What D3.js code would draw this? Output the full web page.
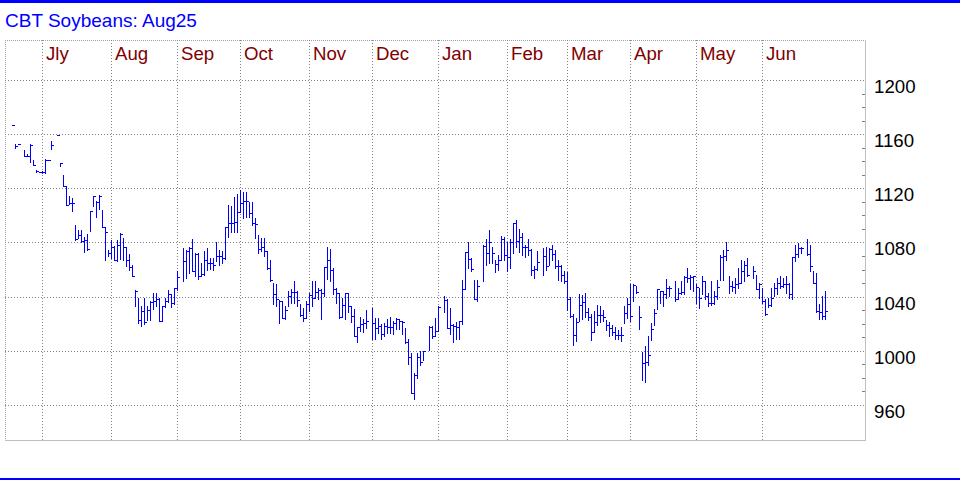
<!DOCTYPE html>
<html><head><meta charset="utf-8">
<script src="https://cdn.jsdelivr.net/npm/d3@7"></script>
<style>html,body{margin:0;padding:0;background:#fff;overflow:hidden}</style>
</head><body>
<svg id="chart" width="960" height="480"></svg>
<script>
const title = "CBT Soybeans: Aug25";
const startDate = "2024-06-14";
const endDate = "2025-07-18";
const monthKeys = ["2024-07","2024-08","2024-09","2024-10","2024-11","2024-12","2025-01","2025-02","2025-03","2025-04","2025-05","2025-06"];
const monthLabels = ["Jly","Aug","Sep","Oct","Nov","Dec","Jan","Feb","Mar","Apr","May","Jun"];
const priceTicks = [960,1000,1040,1080,1120,1160,1200];

const highs = [
1167,1153,1153,null,1148,1145.5,1152.4,1141,1133.6,1131.7,
1133,1141.5,1141,1154.6,null,1159.5,1138.6,1130,1122,1114.4,
1112.7,1093,1089.3,1089.3,1084,1086.4,1103.6,1114.5,1111,1115.2,
1104,1091.4,1074.6,1081.5,1077.6,1082,1087,1083.3,1077,1071.7,
1063.6,1045,1039,1033,1039,1033,1037,1043,1043,1039,
1033,1039,1045,1042,1046.6,1059,null,1076,1074.6,1077,
1082.4,1072,1072,1065,1073.4,1075.9,1068.5,1068.5,1080,1074.6,
1074,1091.7,1107.6,1106.8,1113.7,1116,1119,1117.3,1117.3,1110,
1110,1097.8,1085.6,1083,1083,1073.4,1067.3,1050,1049,1037.8,
1036.6,1032.9,1044,1045.4,1051.5,1044,1034.4,1031.9,1036.8,1042.9,
1051.5,1051.5,1046.6,1045.4,1062.2,1077,1075.1,1061,1046.6,1042.9,
1039.3,1042.9,1042.9,1033.2,1030.7,1017.8,1025.1,1023.2,1029.8,null,
1031.7,1024.4,1024.4,1019.5,1020.7,1023.2,1025,1022,1024.4,1023.2,
1022,1016.8,1008.4,998.3,983.5,998.3,999.5,1000.2,null,1018.5,
1018,1024,1033,null,1040.5,1038,1031.3,1019.9,1021.1,1022.3,
1052.6,1073.2,1080,1068.4,1052.6,1052.6,null,1078,1082.9,1089.5,
1076.8,1067.2,1070.8,1084.6,1084.1,1080.5,1082.9,1094.3,1096.7,1090.2,
1087,1078,1082.9,1074.9,1062.3,1073.5,null,1075.9,1076.7,1075.9,
1078.4,1074.7,1067.3,1063.2,1059.1,1058,1040,1027,1024.5,1041.6,
1041,1043,1031.8,1027,1029.2,1033.7,1033.2,1030.5,1022.7,1021,
1018.7,1017.4,1015,1017.4,1033,1039.2,1049.2,1049.2,1048,1033,
999.4,1003.2,1010.7,1020.6,1030.6,1046,1044.2,1044.2,1052.9,1048,
null,1051.7,1046.6,1051.7,1055.4,1061,1056.2,1055,1049,1046.5,
1055,1051.4,1043,1051.4,1044,1052.6,1070.8,1074.4,1080,1055,
1051.4,1053.8,1061,1067.2,1066,1068.4,null,1062.3,1056.2,1050.2,
1046.5,1038,1039.3,1046.5,1050.2,1053.8,1055,1053.8,1055,1050.2,
1069.6,1078,1079.3,1076.8,null,1082.4,1078,1058.7,1057.5,1034.4,1040.5,1044
];
const lows = [
1167,1150,1153,null,1143.5,1143.5,1139.3,1137,1132,1131.7,
1131,1131.3,1141,1149,null,1159.5,1136.8,1122,1108,1108.5,
1103.4,1082.2,1083.2,1080,1073.3,1074.5,1088.8,1106.6,1098.7,1104.6,
1091.4,1066.8,1069.7,1068.5,1066.8,1066,1067.8,1067.3,1062.8,1059.9,
1055,1033.3,1020.5,1018,1020,1023,1023,1031,1033,1022,
1022,1032,1036,1032,1034.4,1045,null,1051.5,1054,1057.5,
1059,1055,1053,1055,1056.3,1060,1060.5,1060,1066,1063.7,
1064.9,1068,1084.4,1088,1088,1087.6,1102.7,1097.8,1099,1099,
1093,1083.2,1072.2,1073.4,1070,1060.5,1051.5,1034.4,1033.2,1020.7,
1024.4,1023.2,1033,1035.6,1035.6,1033,1025.9,1022.2,1024.4,1029.5,
1033.2,1039.3,1038,1023.4,1040.5,1052.7,1051.5,1041.7,1035.6,1024,
1024.6,1023.4,1028.3,1021,1011.2,1006.6,1014.6,1013.9,1017.1,null,
1008.8,1008.8,1013.4,1009,1011,1013.4,1012.9,1012.2,1015.9,1016.3,
1012.2,1006,989.9,969,964.3,980,989.7,993,null,1000.7,
1009.3,1011,1014.7,null,1028.4,1016.7,1012.6,1006.5,1009,1009,
1019.9,1045.3,1061,1058.7,1038,1036.8,null,1051.4,1063.5,1064.7,
1064.7,1058.2,1060,1067.2,1067.2,1058.7,1061,1072,1076.8,1073.2,
1070.8,1069.6,1070.8,1056.2,1053.8,1060,null,1056.3,1060,1063.6,
1067.3,1061.2,1052,1051.5,1050.3,1030,1025,1004.6,1007,1022,
1023.7,1025,1022.5,1008.3,1013.8,1019.4,1021,1021.8,1015.5,1011.1,
1011.4,1008.7,1008.7,1007.5,1020.6,1024.4,1021.9,1036.8,1043,1015.9,
978.4,977.1,989.6,1008,1019.4,1030.6,1035.5,1033,1039.2,1040.5,
null,1036.8,1038,1041.7,1041.7,1051,1045.3,1044,1035.6,1031.5,
1041.7,1038,1033.2,1034,1034.4,1038,1052.6,1052.6,1067.2,1042.9,
1044,1042.9,1046.5,1050.2,1051.4,1055,null,1053.8,1045.3,1039.3,
1035.6,1026.7,1032,1033.2,1040.5,1041.7,1046.5,1047,1042.9,1039.3,
1038,1066,1069.6,1072,null,1070.8,1058.7,1050.2,1028.4,1023.5,1023.5,1023.5
];
const closes = [
1167,1151.5,1153,null,1144,1144,1152,1137.5,1133,1131.7,
1132,1141,1141,1152,null,1159.5,1138.6,1122,1108,1109,
1109,1082.4,1085.6,1081.2,1082,1075,1103.6,1114,1110,1114.5,
1091.4,1087.4,1072,1077,1066.8,1078,1086.5,1077,1067.3,1062,
1055.5,1043.8,1023,1029.7,1021,1030,1036,1037,1038.5,1022,
1033,1037,1042,1035,1046.6,1054.6,null,1066,1074,1076,
1059.3,1071.7,1055,1057,1067,1064.9,1064.9,1063.7,1070,1069.8,
1068.5,1091.7,1094.6,1094.6,1094.9,1102.7,1108.8,1110.7,1110.7,1102,
1094.6,1093.4,1075,1076.3,1073.4,1061,1052.2,1041.7,1038,1036.6,
1024.4,1029.8,1040.5,1043.6,1043.6,1037.3,1026.3,1024,1034.9,1041.2,
1039.3,1043.4,1044.9,1042.4,1061.7,1067,1060,1045.9,1042.4,1024.6,
1033.9,1042.4,1033.2,1025.4,1011.2,1017.8,1020,1020.7,1021.9,null,
1020.5,1016.6,1018,1012.2,1018,1017.3,1017.3,1020.7,1023.2,1022,
1021.5,1006.5,995.4,969,982.3,995.4,992.1,1000.2,null,1017.7,
1011.3,1014.7,1032.5,null,1037.6,1016.7,1019.2,1018.2,1017.5,1021.8,
1045.8,1072.7,1067.9,1060.4,1038.5,1048.2,null,1077.6,1072,1080,
1072.5,1064.2,1067.2,1082.9,1070.8,1069,1080.5,1094.3,1081.2,1084.1,
1076.8,1076.4,1074.4,1059.9,1060.4,1065.5,null,1070.3,1062.9,1075.2,
1071.5,1062.4,1062.4,1055.8,1051.2,1038.5,1025.6,1012,1021.3,1034,
1035.8,1028.5,1025,1014.1,1021.2,1026.8,1026.8,1025,1018.7,1016.7,
1013.9,1011.9,1011.9,1011.9,1028,1034.3,1025.6,1048.5,1043.7,1025,
990.8,992,997,1016.2,1027.6,1046,1044.2,1041.7,1046.6,1046.6,
null,1038,1042.4,1043.7,1054.2,1053.5,1054.3,1055,1047,1039.3,
1051.4,1040.5,1035.6,1035.6,1040.5,1047,1069.6,1070,1074.4,1047.8,
1047,1049,1050.2,1059.2,1063.5,1056.2,null,1058.7,1045.3,1049,
1036.8,1027.2,1034,1039.3,1046.5,1050.2,1047.8,1049,1049.5,1041.7,
1069,1071.5,1076,1076,null,1071.3,1062.3,1050.2,1029.6,1028.4,1026,1029.6
];

const svg = d3.select("#chart");
const plot = {left:5, right:865, top:40, bottom:440};
const font = "'Liberation Sans', Arial, sans-serif";
const fs = "18.67px";

const parse = d3.utcParse("%Y-%m-%d");
const fmt = d3.utcFormat("%Y-%m-%d");
const days = d3.utcDay.range(parse(startDate), parse(endDate))
  .filter(d => d.getUTCDay() !== 0 && d.getUTCDay() !== 6);
const dayKeys = days.map(fmt);

const x = d3.scalePoint().domain(dayKeys).range([12, 12 + 3 * (dayKeys.length - 1)]);
const y = d3.scaleLinear().domain([934.5, 1229.9]).range([plot.bottom, plot.top]);
const py = v => Math.floor(y(v));

// blue bands
svg.append("rect").attr("x",0).attr("y",0).attr("width",960).attr("height",3).attr("fill","#0000ff");
svg.append("rect").attr("x",0).attr("y",478).attr("width",960).attr("height",2).attr("fill","#0000ff");

// title
svg.append("text").attr("x",5).attr("y",27).text(title)
  .attr("font-family",font).attr("font-size","19px").attr("fill","#0000ff");

const g = svg.append("g").attr("shape-rendering","crispEdges");

// borders
g.append("line").attr("x1",plot.left).attr("x2",plot.right).attr("y1",plot.top+0.5).attr("y2",plot.top+0.5)
  .attr("stroke","#a0a0a0").attr("stroke-dasharray","1,1");
g.append("line").attr("x1",plot.left+0.5).attr("x2",plot.left+0.5).attr("y1",plot.top).attr("y2",plot.bottom)
  .attr("stroke","#a0a0a0").attr("stroke-dasharray","1,1");

// horizontal grid
g.selectAll("line.hg").data(priceTicks).join("line").attr("class","hg")
  .attr("x1",plot.left).attr("x2",plot.right)
  .attr("y1",d=>py(d)+0.5).attr("y2",d=>py(d)+0.5)
  .attr("stroke","#808080").attr("stroke-dasharray","1,2");

// month grid + labels
const monthStarts = monthKeys.map(m => dayKeys.find(k => k.startsWith(m)));
const gx = k => x(k) - x.step();
g.selectAll("line.vg").data(monthStarts).join("line").attr("class","vg")
  .attr("x1",d=>gx(d)+0.5).attr("x2",d=>gx(d)+0.5)
  .attr("y1",plot.top).attr("y2",plot.bottom)
  .attr("stroke","#808080").attr("stroke-dasharray","1,2");
svg.selectAll("text.ml").data(monthStarts).join("text").attr("class","ml")
  .attr("x",d=>gx(d)+4).attr("y",60).text((d,i)=>monthLabels[i])
  .attr("font-family",font).attr("font-size",fs).attr("fill","#800000");

// right & bottom border
g.append("line").attr("x1",plot.right+0.5).attr("x2",plot.right+0.5).attr("y1",plot.top).attr("y2",plot.bottom+1)
  .attr("stroke","#c0c0c0");
g.append("line").attr("x1",plot.left).attr("x2",plot.right+1).attr("y1",plot.bottom+0.5).attr("y2",plot.bottom+0.5)
  .attr("stroke","#c0c0c0");

// minor ticks
const minor = d3.range(970, 1200, 10).filter(v => v % 40 !== 0);
g.selectAll("line.mt").data(minor).join("line").attr("class","mt")
  .attr("x1",plot.right-3).attr("x2",plot.right)
  .attr("y1",d=>py(d)+0.5).attr("y2",d=>py(d)+0.5)
  .attr("stroke","#808080");

// price labels
svg.selectAll("text.pl").data(priceTicks).join("text").attr("class","pl")
  .attr("x",874).attr("y",d=>py(d)+13).text(d=>d)
  .attr("font-family",font).attr("font-size",fs).attr("fill","#000");

// bars
const bars = dayKeys.slice(0, highs.length).map((k,i)=>({k, h:highs[i], l:lows[i], c:closes[i]}))
  .filter(d => d.h != null);
const bg = g.append("g").attr("fill","#0000ff");
bg.selectAll("rect.v").data(bars).join("rect").attr("class","v")
  .attr("x",d=>x(d.k)).attr("width",1)
  .attr("y",d=>py(d.h)).attr("height",d=>py(d.l)-py(d.h)+1);
bg.selectAll("rect.c").data(bars).join("rect").attr("class","c")
  .attr("x",d=>x(d.k)+1).attr("width",2)
  .attr("y",d=>py(d.c)).attr("height",1);
</script>
</body></html>
